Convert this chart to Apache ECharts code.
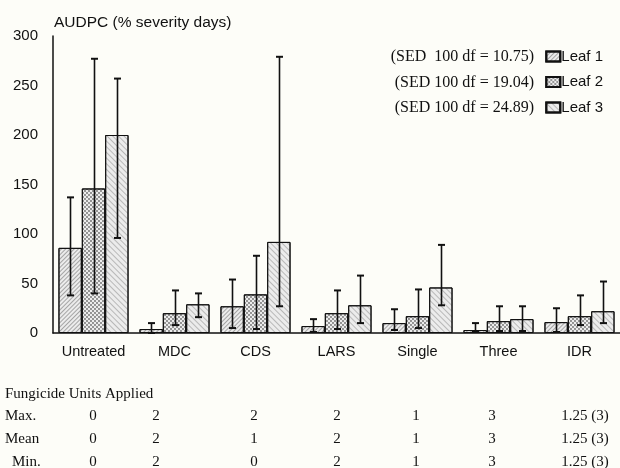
<!DOCTYPE html>
<html lang="en">
<head>
<meta charset="UTF-8">
<title>AUDPC by fungicide program</title>
<script src="https://cdn.jsdelivr.net/npm/echarts@6.0.0/dist/echarts.min.js"></script>
<style>
  html, body { margin: 0; padding: 0; background: #fdfdf8; }
  #main { width: 620px; height: 468px; }
</style>
</head>
<body>
<div id="main"></div>
<script>
// categories and values
const categories = ['Untreated', 'MDC', 'CDS', 'LARS', 'Single', 'Three', 'IDR'];
const leafNames = ['Leaf 1', 'Leaf 2', 'Leaf 3'];
const sedLabels = ['(SED  100 df = 10.75)', '(SED 100 df = 19.04)', '(SED 100 df = 24.89)'];

const leaf1 = [86, 4, 27, 7, 10, 3, 11];
const leaf1Lo = [38, 0, 5, 1, 3, 1, 1];
const leaf1Hi = [137, 10, 54, 14, 24, 10, 25];
const leaf2 = [146, 20, 39, 20, 17, 12, 17];
const leaf2Lo = [40, 8, 4, 4, 5, 2, 8];
const leaf2Hi = [277, 43, 78, 43, 44, 27, 38];
const leaf3 = [200, 29, 92, 28, 46, 14, 22];
const leaf3Lo = [96, 16, 27, 10, 28, 2, 10];
const leaf3Hi = [257, 40, 279, 58, 89, 27, 52];

// fungicide units table under the chart
const tableTitle = 'Fungicide Units Applied';
const rowNames = ['Max.', 'Mean', 'Min.'];
const maxUnits = ['0', '2', '2', '2', '1', '3', '1.25 (3)'];
const meanUnits = ['0', '2', '1', '2', '1', '3', '1.25 (3)'];
const minUnits = ['0', '2', '0', '2', '1', '3', '1.25 (3)'];

const values = [leaf1, leaf2, leaf3];
const lows = [leaf1Lo, leaf2Lo, leaf3Lo];
const highs = [leaf1Hi, leaf2Hi, leaf3Hi];

const ink = '#111';
const catGap = 0.135;

const decals = [
  { symbol: 'rect', dashArrayX: [1, 0], dashArrayY: [1, 2], rotation: -Math.PI / 4, color: 'rgba(0,0,0,0.30)' },
  { symbol: 'circle', symbolSize: 0.9, dashArrayX: [[2, 2], [0, 2, 2, 0]], dashArrayY: [2, 0], color: 'rgba(0,0,0,0.55)' },
  { symbol: 'rect', dashArrayX: [1, 0], dashArrayY: [1, 3], rotation: Math.PI / 4, color: 'rgba(0,0,0,0.22)' }
];

const chart = echarts.init(document.getElementById('main'));

const barSeries = leafNames.map((name, i) => ({
  name: name,
  type: 'bar',
  data: values[i],
  barGap: '0%',
  barCategoryGap: (catGap * 100) + '%',
  itemStyle: { color: '#ececec', borderColor: ink, borderWidth: 1, decal: decals[i] },
  z: 2
}));

const errSeries = leafNames.map((name, i) => ({
  type: 'custom',
  name: name + ' err',
  data: categories.map((c, k) => [k, lows[i][k], highs[i][k]]),
  z: 5,
  silent: true,
  renderItem: function (params, api) {
    const k = api.value(0);
    const bandW = api.size([1, 0])[0];
    const barW = bandW * (1 - catGap) / 3;
    const center = api.coord([k, 0])[0];
    const x = Math.round(center + (i - 1) * barW) + 0.5;
    const yLo = api.coord([k, api.value(1)])[1];
    const yHi = api.coord([k, api.value(2)])[1];
    const cap = 3.5;
    return {
      type: 'group',
      children: [
        { type: 'line', shape: { x1: x, y1: yLo, x2: x, y2: yHi }, style: { stroke: ink, lineWidth: 1.6 } },
        { type: 'line', shape: { x1: x - cap, y1: yHi, x2: x + cap, y2: yHi }, style: { stroke: ink, lineWidth: 2 } },
        { type: 'line', shape: { x1: x - cap, y1: yLo, x2: x + cap, y2: yLo }, style: { stroke: ink, lineWidth: 2 } }
      ]
    };
  }
}));

const serif = '"Liberation Serif", "Times New Roman", serif';
const sans = '"Liberation Sans", Arial, sans-serif';

const graphics = [];
sedLabels.forEach((t, i) => {
  graphics.push({
    type: 'text', x: 534, y: 57 + i * 25.5,
    style: { text: t, font: '16px ' + serif, fill: ink, align: 'right', verticalAlign: 'middle' }
  });
});
graphics.push({
  type: 'text', x: 5, y: 394,
  style: { text: tableTitle, font: '15px ' + serif, fill: ink, verticalAlign: 'middle' }
});
const colX = [93, 156, 254, 337, 416, 492, 585];
const rowX = [5, 5, 12];
[maxUnits, meanUnits, minUnits].forEach((row, r) => {
  const y = 416 + r * 23;
  graphics.push({
    type: 'text', x: rowX[r], y: y,
    style: { text: rowNames[r], font: '15px ' + serif, fill: ink, verticalAlign: 'middle' }
  });
  row.forEach((v, c) => {
    graphics.push({
      type: 'text', x: colX[c], y: y,
      style: { text: v, font: '15px ' + serif, fill: ink, align: 'center', verticalAlign: 'middle' }
    });
  });
});

chart.setOption({
  backgroundColor: '#fdfdf8',
  animation: false,
  title: {
    text: 'AUDPC (% severity days)',
    left: 49, top: 10,
    textStyle: { fontFamily: sans, fontSize: 15.5, fontWeight: 'normal', color: ink }
  },
  legend: {
    data: leafNames,
    orient: 'vertical',
    right: 12, top: 44,
    itemWidth: 14, itemHeight: 10, itemGap: 10.5,
    icon: 'rect',
    textStyle: { fontFamily: sans, fontSize: 15, color: ink, padding: [0, 0, 0, -4] }
  },
  grid: { left: 53, right: 0, top: 36, bottom: 135 },
  xAxis: {
    type: 'category',
    data: categories,
    axisLine: { lineStyle: { color: ink, width: 1.5 } },
    axisTick: { show: false },
    axisLabel: { interval: 0, color: ink, fontFamily: sans, fontSize: 14.5, margin: 11 }
  },
  yAxis: {
    type: 'value',
    min: 0, max: 300, interval: 50,
    axisLine: { show: true, lineStyle: { color: ink, width: 1.5 } },
    axisTick: { show: false },
    splitLine: { show: false },
    axisLabel: { color: ink, fontFamily: sans, fontSize: 15, margin: 15 }
  },
  graphic: graphics,
  series: barSeries.concat(errSeries)
});
</script>
</body>
</html>
